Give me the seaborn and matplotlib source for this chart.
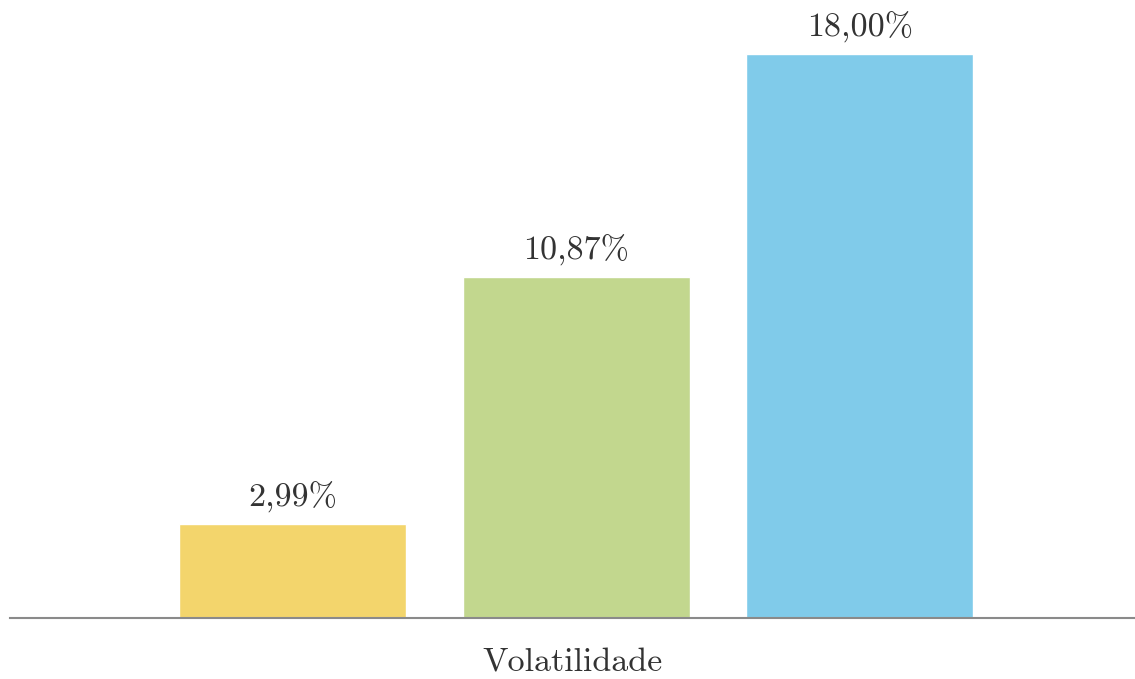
import matplotlib
matplotlib.use("Agg")
import matplotlib.pyplot as plt
import pandas as pd
import seaborn as sns

# ── data ──────────────────────────────────────────────────────────────────────
categories = ["A", "B", "C"]
values = [2.99, 10.87, 18.00]
labels = ["2,99%", "10,87%", "18,00%"]
colors = ["#F3D56C", "#C2D78E", "#80CBEA"]

sns.set_theme(style="white")
plt.rcParams["font.family"] = ["cmr10", "DejaVu Serif"]
plt.rcParams["axes.formatter.use_mathtext"] = True

df = pd.DataFrame({"cat": categories, "val": values})

fig = plt.figure(figsize=(11.35, 6.79), dpi=100)
ax = fig.add_axes([10 / 1135, 61 / 679, 1125 / 1135, 618 / 679])

sns.barplot(data=df, x="cat", y="val", hue="cat", palette=colors,
            width=0.8, legend=False, ax=ax, saturation=1)

for patch, txt in zip(ax.patches, labels):
    ax.annotate(txt, (patch.get_x() + patch.get_width() / 2, patch.get_height()),
                xytext=(0, 8), textcoords="offset points",
                ha="center", va="bottom", fontsize=24.5, color="#333333")

ax.set_xlim(-0.995, 2.97)
ax.set_ylim(0, 19.72)
ax.set_xticks([])
ax.set_yticks([])
for side in ["top", "right", "left"]:
    ax.spines[side].set_visible(False)
ax.spines["bottom"].set_color("#8a8a8a")
ax.spines["bottom"].set_linewidth(1.5)
ax.set_ylabel("")
ax.set_xlabel("Volatilidade", fontsize=24.5, color="#333333", labelpad=22)

fig.savefig("out.png", dpi=100)
